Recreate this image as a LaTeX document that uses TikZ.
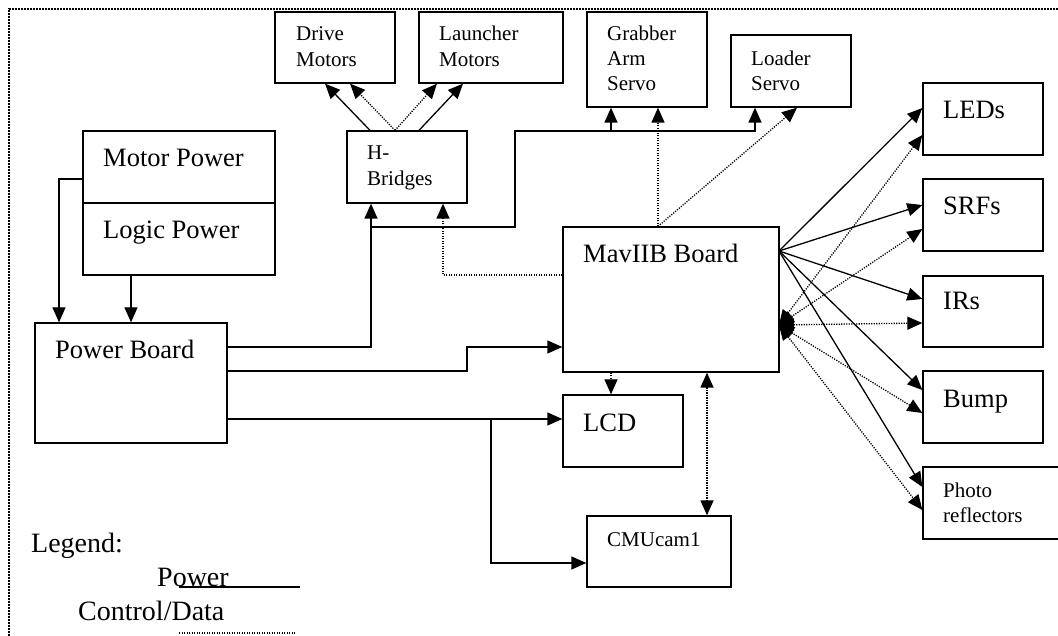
\documentclass[tikz,border=0pt]{standalone}
\usepackage{fontspec}
\setmainfont{Liberation Serif}
\usetikzlibrary{arrows.meta,fit}
\begin{document}
\begin{tikzpicture}[x=1pt,y=-1pt,
  box/.style={draw, line width=1.3pt, inner sep=0pt},
  big/.style={font=\fontsize{26.5}{31}\selectfont, anchor=base west, inner sep=0pt},
  small/.style={font=\fontsize{21}{25}\selectfont, anchor=base west, inner sep=0pt},
  leg/.style={font=\fontsize{28}{33}\selectfont, anchor=base west, inner sep=0pt},
  tip/.tip={Triangle[length=15pt,width=13pt]},
  pwl/.style={line width=1.3pt},
  pw/.style={pwl, -tip},
  ctll/.style={line width=1.3pt, dash pattern=on 1.2pt off 1.3pt},
  ctl/.style={ctll, -tip},
  ctlb/.style={ctll, tip-tip},
  border/.style={line width=1.6pt, dash pattern=on 1.6pt off 1.4pt}
]
\useasboundingbox (0,0) rectangle (1058,636);
\clip (0,0) rectangle (1058,636);
\fill[white] (0,0) rectangle (1058,636);

\draw[border] (9,645) -- (9,9) -- (1065,9);

% boxes
\node[box, fit={(275,12) (395,83)}] (dm) {};
\node[box, fit={(419,12) (563,83)}] (lm) {};
\node[box, fit={(587,12) (707,107)}] (gs) {};
\node[box, fit={(731,35) (851,107)}] (ls) {};
\node[box, fit={(347,131) (467,203)}] (hb) {};
\node[box, fit={(83,131) (275,203)}] (mp) {};
\node[box, fit={(83,203) (275,275)}] (lp) {};
\node[box, fit={(35,323) (227,443)}] (pb) {};
\node[box, fit={(563,227) (779,372)}] (mav) {};
\node[box, fit={(563,395) (683,467)}] (lcd) {};
\node[box, fit={(587,516) (731,587)}] (cam) {};
\node[box, fit={(923,83) (1043,155)}] (leds) {};
\node[box, fit={(923,179) (1043,251)}] (srfs) {};
\node[box, fit={(923,276) (1043,347)}] (irs) {};
\node[box, fit={(923,371) (1043,443)}] (bump) {};
\node[box, fit={(923,467) (1080,539)}] (photo) {};

% texts
\node[small] (tdm1) at (296,41) {Drive};
\node[small] (tdm2) at (296,67) {Motors};
\node[small] (tlm1) at (439,41) {Launcher};
\node[small] (tlm2) at (439,67) {Motors};
\node[small] (tgs1) at (607,41) {Grabber};
\node[small] (tgs2) at (607,66) {Arm};
\node[small] (tgs3) at (607,91) {Servo};
\node[small] (tls1) at (751,66) {Loader};
\node[small] (tls2) at (751,91) {Servo};
\node[small] (thb1) at (367,160) {H-};
\node[small] (thb2) at (367,186) {Bridges};
\node[big] (tmp) at (103,167) {Motor Power};
\node[big] (tlp) at (103,239) {Logic Power};
\node[big] (tpb) at (55,359) {Power Board};
\node[big] (tmav) at (583,263) {MavIIB Board};
\node[big] (tlcd) at (583,431) {LCD};
\node[small] (tcam) at (607,546) {CMUcam1};
\node[big] (tleds) at (943,119) {LEDs};
\node[big] (tsrfs) at (943,215) {SRFs};
\node[big] (tirs) at (943,310) {IRs};
\node[big] (tbump) at (943,407) {Bump};
\node[small] (tph1) at (943,497) {Photo};
\node[small] (tph2) at (943,522) {reflectors};
\node[leg] (tleg) at (31,552) {Legend:};
\node[leg] (tpow) at (157,586) {Power};
\node[leg] (tctl) at (78,620) {Control/Data};

% legend samples
\coordinate (lga) at (179,587);
\coordinate (lgb) at (300,587);
\coordinate (lgc) at (179,633);
\coordinate (lgd) at (296,633);
\draw[pwl] (lga) -- (lgb);
\draw[ctll] (lgc) -- (lgd);

% power connections
\draw[pw] (mp.west |- 0,179) -- (59,179) -- (59,0 |- pb.north);
\draw[pw] (131,0 |- lp.south) -- (131,0 |- pb.north);
\draw[pw] (pb.east |- 0,347) -- (371,347) -- (371,0 |- hb.south);
\draw[pw] (371,227) -- (515,227) -- (515,131) -- (755,131) -- (755,0 |- ls.south);
\draw[pw] (611,131) -- (611,0 |- gs.south);
\draw[pw] (pb.east |- 0,371) -- (467,371) -- (467,347) -- (mav.west |- 0,347);
\draw[pw] (pb.east |- 0,419) -- (lcd.west |- 0,419);
\draw[pw] (491,419) -- (491,563) -- (cam.west |- 0,563);

% H-bridges to motors
\draw[pw] (370,0 |- hb.north) -- (325,0 |- dm.south);
\draw[ctl] (395,0 |- hb.north) -- (350,0 |- dm.south);
\draw[ctl] (395,0 |- hb.north) -- (437,0 |- lm.south);
\draw[pw] (419,0 |- hb.north) -- (463,0 |- lm.south);

% control connections
\draw[ctl] (mav.west |- 0,275) -- (443,275) -- (443,0 |- hb.south);
\draw[ctl] (658,0 |- mav.north) -- (658,0 |- gs.south);
\draw[ctl] (658,0 |- mav.north) -- (797,0 |- ls.south);
\draw[ctl] (611,0 |- mav.south) -- (611,0 |- lcd.north);
\draw[ctlb] (707,0 |- mav.south) -- (707,0 |- cam.north);

% fan to sensors
\coordinate (fs) at (779,251);
\coordinate (fd) at (779,325);
\draw[pw] (fs) -- (leds.west |- 0,108);
\draw[pw] (fs) -- (srfs.west |- 0,205);
\draw[pw] (fs) -- (irs.west |- 0,299);
\draw[pw] (fs) -- (bump.west |- 0,390);
\draw[pw] (fs) -- (photo.west |- 0,487);
\draw[ctlb] (fd) -- (leds.west |- 0,135);
\draw[ctlb] (fd) -- (srfs.west |- 0,229);
\draw[ctlb] (fd) -- (irs.west |- 0,323);
\draw[ctlb] (fd) -- (bump.west |- 0,413);
\draw[ctlb] (fd) -- (photo.west |- 0,510);
\end{tikzpicture}
\end{document}
